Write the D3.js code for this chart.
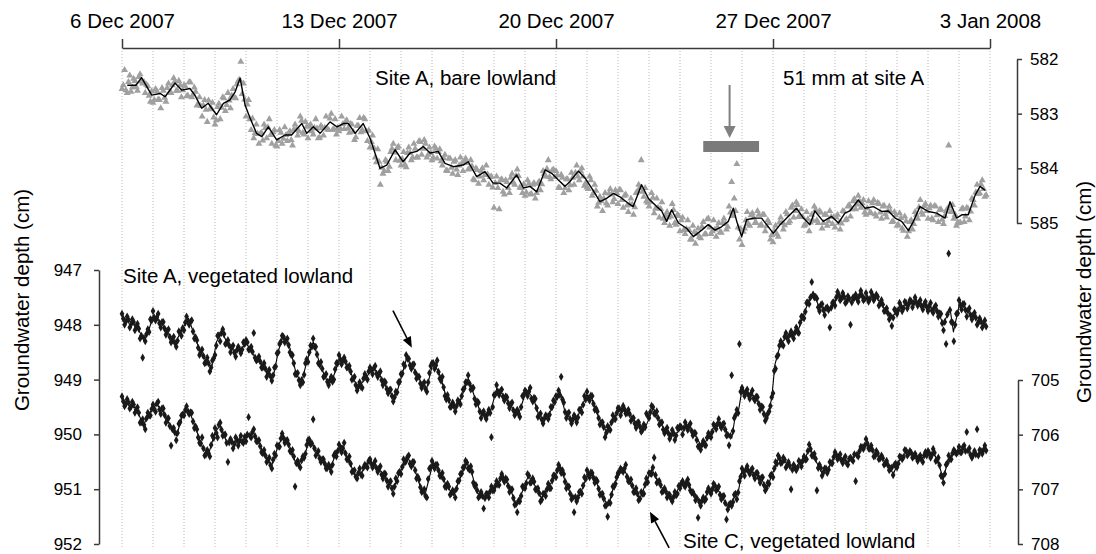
<!DOCTYPE html>
<html><head><meta charset="utf-8">
<script src="https://cdn.jsdelivr.net/npm/d3@7"></script>
<style>
html,body{margin:0;padding:0;background:#fff;}
svg{display:block;font-family:"Liberation Sans",Arial,Helvetica,sans-serif;}
</style></head><body>
<svg id="chart" width="1096" height="554"></svg>
<script>
// ---------- data ----------
const dateTickLabels = ["6 Dec 2007","13 Dec 2007","20 Dec 2007","27 Dec 2007","3 Jan 2008"];
const dateTickDays = [0, 7, 14, 21, 28];
const bareTicks = [582, 583, 584, 585];
const vegATicks = [947, 948, 949, 950, 951, 952];
const vegCTicks = [705, 706, 707, 708];
const rainStartDay = 18.75, rainEndDay = 20.55, rainArrowDay = 19.6;
const pointStepDays = 1 / 12; // readings every 2 hours (even hours from 6 Dec 2007 00:00; odd-hour set offset by 1 h)

// smoothed lines: [day since 6 Dec 2007, depth cm]
const siteABareLine = [[0.17,582.48],[0.45,582.48],[0.63,582.34],[0.96,582.66],[1.23,582.63],[1.39,582.69],[1.71,582.44],[1.93,582.57],[2.19,582.54],[2.35,582.66],[2.57,582.90],[2.78,582.81],[3.05,583.02],[3.27,582.81],[3.48,582.75],[3.65,582.60],[3.81,582.35],[3.97,582.84],[4.13,583.08],[4.34,583.36],[4.51,583.42],[4.72,583.24],[4.99,583.48],[5.26,583.39],[5.47,583.39],[5.80,583.18],[5.96,583.36],[6.17,583.24],[6.39,583.36],[6.71,583.15],[6.93,583.24],[7.14,583.18],[7.30,583.18],[7.52,583.36],[7.78,583.18],[8.00,583.45],[8.22,583.82],[8.32,584.00],[8.54,583.94],[8.81,583.66],[9.07,583.88],[9.29,583.72],[9.51,583.69],[9.72,583.60],[9.94,583.72],[10.20,583.69],[10.42,583.91],[10.69,583.97],[11.00,583.94],[11.17,583.88],[11.44,584.15],[11.71,584.06],[11.97,584.27],[12.19,584.27],[12.41,584.36],[12.73,584.12],[12.95,584.36],[13.16,584.33],[13.38,584.43],[13.65,584.03],[13.86,584.09],[14.07,584.21],[14.29,584.33],[14.45,584.24],[14.72,584.05],[14.94,584.18],[15.15,584.36],[15.42,584.61],[15.63,584.55],[15.85,584.46],[16.06,584.52],[16.33,584.64],[16.49,584.70],[16.76,584.30],[16.98,584.55],[17.25,584.70],[17.41,584.78],[17.57,584.97],[17.73,584.76],[17.95,585.00],[18.22,585.10],[18.43,585.25],[18.70,585.13],[18.91,585.03],[19.13,585.13],[19.34,585.07],[19.56,584.97],[19.72,584.73],[19.83,584.97],[19.99,585.25],[20.15,584.94],[20.37,584.91],[20.63,584.91],[20.85,585.07],[21.01,585.19],[21.23,585.03],[21.49,584.88],[21.76,584.73],[21.98,584.91],[22.19,585.03],[22.35,584.78],[22.62,584.97],[22.89,584.88],[23.11,585.00],[23.32,584.82],[23.48,584.78],[23.75,584.58],[23.97,584.73],[24.24,584.70],[24.51,584.79],[24.72,584.78],[24.94,584.91],[25.15,584.97],[25.37,585.14],[25.53,584.97],[25.74,584.70],[26.01,584.79],[26.28,584.82],[26.55,584.91],[26.71,584.61],[26.92,584.91],[27.09,584.85],[27.30,584.85],[27.52,584.49],[27.68,584.33],[27.84,584.40]];

const siteAVegLine = [[0.00,947.88],[0.26,947.94],[0.47,948.03],[0.69,948.25],[0.85,948.13],[1.01,947.82],[1.23,947.94],[1.49,948.16],[1.71,948.34],[1.93,948.09],[2.14,947.88],[2.30,948.13],[2.52,948.49],[2.73,948.67],[2.89,948.79],[3.05,948.31],[3.22,948.13],[3.43,948.37],[3.65,948.49],[3.86,948.43],[4.02,948.34],[4.24,948.55],[4.45,948.67],[4.67,948.86],[4.88,948.95],[5.04,948.49],[5.20,948.19],[5.42,948.43],[5.63,948.92],[5.80,949.04],[5.96,948.67],[6.17,948.31],[6.39,948.73],[6.60,949.01],[6.76,949.04],[7.03,948.61],[7.25,948.70],[7.46,948.98],[7.62,949.16],[7.84,948.98],[8.11,948.79],[8.32,948.92],[8.54,949.16],[8.81,949.34],[8.97,949.04],[9.18,948.61],[9.40,948.79],[9.67,949.07],[9.83,949.16],[10.04,948.67],[10.26,948.92],[10.47,949.34],[10.69,949.52],[10.90,949.40],[11.17,948.98],[11.39,949.34],[11.60,949.65],[11.87,949.62],[12.09,949.16],[12.30,949.28],[12.52,949.46],[12.78,949.65],[13.05,949.19],[13.27,949.34],[13.48,949.71],[13.65,949.71],[13.86,949.55],[14.13,949.22],[14.29,949.59],[14.51,949.74],[14.72,949.65],[14.99,949.28],[15.15,949.34],[15.37,949.68],[15.63,949.95],[15.85,949.71],[16.06,949.55],[16.33,949.59],[16.55,949.77],[16.87,949.89],[17.14,949.52],[17.35,949.77],[17.57,949.98],[17.84,950.01],[18.05,949.89],[18.27,949.83],[18.43,949.95],[18.70,950.22],[18.91,950.07],[19.07,949.89],[19.29,949.77],[19.51,949.95],[19.67,950.07],[19.77,949.71],[19.88,949.59],[19.99,949.22],[20.20,949.25],[20.42,949.31],[20.63,949.52],[20.80,949.71],[20.96,949.34],[21.06,948.73],[21.23,948.37],[21.39,948.25],[21.60,948.19],[21.82,948.09],[21.98,947.82],[22.19,947.52],[22.30,947.40],[22.46,947.64],[22.68,947.73],[22.89,947.70],[23.11,947.46],[23.32,947.52],[23.54,947.58],[23.81,947.46],[24.07,947.52],[24.29,947.46],[24.51,947.64],[24.83,947.88],[25.04,947.70],[25.31,947.64],[25.58,947.58],[25.85,947.64],[26.12,947.70],[26.33,947.76],[26.49,948.00],[26.71,947.70],[26.82,948.13],[27.03,947.58],[27.25,947.76],[27.46,947.82],[27.62,947.94],[27.84,948.00]];

const siteCVegLine = [[0.00,705.38],[0.26,705.44],[0.47,705.53],[0.69,705.83],[0.90,705.59],[1.12,705.44],[1.33,705.59],[1.55,705.83],[1.76,706.02],[1.98,705.59],[2.14,705.53],[2.35,705.83],[2.57,706.20],[2.78,706.38],[3.00,705.96],[3.16,705.83],[3.38,706.14],[3.59,706.14],[3.81,706.11],[4.02,706.05],[4.24,705.96],[4.45,706.20],[4.67,706.44],[4.83,706.56],[5.04,706.20],[5.20,706.02],[5.42,706.23],[5.63,706.56],[5.85,706.44],[6.06,706.08],[6.28,706.32],[6.49,706.50],[6.71,706.63],[6.92,706.32],[7.08,706.20],[7.30,706.44],[7.52,706.75],[7.73,706.69],[7.94,706.50],[8.16,706.56],[8.38,706.69],[8.59,706.87],[8.75,706.99],[8.97,706.69],[9.18,706.41],[9.40,706.56],[9.61,706.93],[9.77,707.11],[10.04,706.50],[10.26,706.69],[10.47,706.93],[10.69,707.11],[10.90,706.81],[11.12,706.50],[11.28,706.69],[11.44,707.05],[11.66,707.17],[11.87,707.05],[12.14,706.87],[12.30,706.75],[12.52,706.99],[12.73,707.30],[12.95,706.99],[13.11,706.75],[13.32,706.93],[13.54,707.17],[13.65,707.05],[13.86,706.87],[14.13,706.56],[14.34,706.93],[14.56,707.17],[14.77,707.11],[15.04,706.69],[15.26,706.81],[15.47,707.11],[15.69,707.30],[15.90,706.87],[16.17,706.60],[16.44,706.93],[16.71,707.17],[16.87,706.93],[17.09,706.63],[17.30,706.87],[17.52,707.05],[17.78,707.17],[18.00,706.93],[18.22,706.87],[18.43,707.11],[18.70,707.24],[18.91,707.05],[19.13,706.93],[19.34,707.11],[19.56,707.36],[19.72,707.17],[19.88,707.05],[19.99,706.69],[20.20,706.63],[20.42,706.72],[20.63,706.81],[20.80,706.99],[20.96,706.75],[21.17,706.44],[21.39,706.50],[21.60,706.63],[21.82,706.56],[22.03,706.44],[22.19,706.23],[22.35,706.44],[22.57,706.69],[22.78,706.63],[23.00,706.38],[23.22,706.44],[23.43,706.50],[23.65,706.38],[23.86,706.26],[24.02,706.14],[24.24,706.32],[24.51,706.44],[24.72,706.56],[24.88,706.72],[25.10,706.44],[25.31,706.32],[25.53,706.38],[25.74,706.44],[25.96,706.38],[26.17,706.32],[26.33,706.50],[26.49,706.81],[26.66,706.44],[26.87,706.32],[27.09,706.26],[27.30,706.32],[27.52,706.38],[27.73,706.32],[27.84,706.26]];

// individual readings, even hours
const siteABarePoints = [
582.55,582.20,582.62,582.30,582.52,582.40,582.58,582.28,582.45,582.62,582.50,582.78,
582.80,582.55,582.74,582.90,582.58,582.78,582.45,582.62,582.35,582.58,582.40,582.70,
582.48,582.68,582.42,582.70,582.52,582.85,582.70,583.05,582.75,583.15,582.92,582.80,
583.20,582.88,583.10,582.70,582.95,582.62,582.90,582.55,582.72,582.40,582.05,582.45,
583.05,582.75,583.30,583.45,583.20,583.55,583.35,583.20,583.45,583.10,583.55,583.30,
583.60,583.30,583.55,583.25,583.50,583.32,583.58,583.20,583.40,583.05,583.35,583.15,
583.45,583.20,583.38,583.10,583.45,583.22,583.40,583.05,583.30,583.00,583.28,583.38,
583.32,583.05,583.28,583.12,583.35,583.20,583.48,583.22,583.08,583.30,583.10,583.50,
583.62,583.40,583.80,583.65,584.30,584.10,583.85,584.05,583.70,583.55,583.85,583.60,
583.95,583.70,583.98,583.62,583.85,583.55,583.80,583.50,583.75,583.48,583.80,583.62,
583.85,583.60,583.82,583.65,583.95,583.75,584.05,583.82,584.10,583.85,584.12,583.80,
584.05,583.82,584.02,583.85,584.20,584.00,584.28,584.05,584.22,583.95,584.30,584.15,
584.72,584.15,584.75,584.20,584.48,584.25,584.45,584.10,584.30,584.02,584.35,584.45,
584.50,584.22,584.48,584.30,584.55,584.28,584.40,584.05,584.15,583.85,584.20,584.02,
584.05,584.35,584.12,584.45,584.20,584.40,584.08,584.30,583.95,584.22,584.00,584.32,
584.35,584.15,584.50,584.30,584.70,584.52,584.78,584.45,584.68,584.38,584.62,584.40,
584.65,584.40,584.72,584.48,584.80,584.55,584.85,584.45,584.30,583.85,584.52,584.60,
584.70,584.45,584.82,584.55,584.90,584.62,585.00,584.80,585.05,584.65,585.00,584.85,
585.15,584.90,585.20,584.95,585.30,585.05,585.38,585.10,585.28,584.98,585.20,584.92,
585.20,584.95,585.25,585.00,585.18,584.92,585.12,584.70,584.25,584.55,583.92,585.30,
585.40,585.10,584.80,585.05,584.82,585.00,584.78,585.05,584.85,585.15,584.95,585.30,
585.35,585.05,585.25,584.90,585.12,584.80,585.00,584.72,584.90,584.62,584.88,584.75,
585.05,584.80,585.15,584.85,584.70,584.95,584.78,585.10,584.85,585.05,584.78,585.02,
585.08,584.85,585.12,584.78,584.95,584.70,584.88,584.60,584.75,584.50,584.72,584.58,
584.85,584.60,584.82,584.58,584.88,584.65,584.92,584.68,584.90,584.70,584.98,584.80,
585.05,584.82,585.10,584.88,585.25,584.98,585.12,584.80,584.92,584.58,584.85,584.65,
584.92,584.68,584.95,584.70,584.98,584.75,585.02,584.78,583.58,584.80,584.92,585.05,
585.00,584.75,584.98,584.72,584.95,584.55,584.68,584.30,584.45,584.22,584.52];
// odd hours
const siteABarePointsOdd = [
582.48,582.57,582.42,582.60,582.36,582.51,582.33,582.41,582.42,582.47,582.67,582.59,
582.75,582.59,582.75,582.53,582.71,582.53,582.61,582.48,582.41,582.58,582.48,582.57,
582.50,582.67,582.43,582.65,582.60,582.83,582.86,582.85,582.93,582.76,582.90,583.07,
583.12,582.82,582.89,582.72,582.84,582.76,582.67,582.71,582.46,582.38,582.64,582.74,
582.83,583.10,583.09,583.36,583.37,583.37,583.49,583.26,583.25,583.39,583.34,583.58,
583.50,583.35,583.46,583.39,583.36,583.48,583.29,583.29,583.32,583.13,583.38,583.24,
583.23,583.32,583.26,583.27,583.44,583.26,583.26,583.29,583.09,583.30,583.10,583.26,
583.27,583.19,583.15,583.27,583.19,583.33,583.43,583.22,583.34,583.08,583.32,583.31,
583.52,583.63,583.89,583.88,583.99,584.05,583.88,583.97,583.64,583.71,583.63,583.86,
583.83,583.93,583.72,583.72,583.80,583.64,583.80,583.52,583.64,583.55,583.75,583.72,
583.80,583.64,583.70,583.87,583.81,584.04,583.82,583.99,583.88,584.02,583.95,583.91,
583.87,583.90,584.01,583.96,584.22,584.03,584.15,584.00,584.12,584.11,584.16,584.35,
584.27,584.36,584.22,584.43,584.22,584.36,584.17,584.26,584.14,584.14,584.36,584.29,
584.44,584.28,584.47,584.27,584.45,584.24,584.29,584.10,584.01,584.16,584.04,584.16,
584.13,584.36,584.17,584.36,584.20,584.31,584.17,584.08,584.15,584.05,584.15,584.27,
584.38,584.22,584.45,584.41,584.63,584.60,584.55,584.64,584.46,584.48,584.56,584.45,
584.39,584.58,584.50,584.68,584.66,584.66,584.71,584.42,584.36,584.43,584.36,584.63,
584.61,584.54,584.74,584.72,584.74,584.92,584.86,584.90,584.88,584.76,585.03,584.87,
584.95,585.13,585.11,585.13,585.30,585.17,585.20,585.25,585.07,585.21,584.93,585.08,
585.15,585.12,585.08,585.17,585.00,585.02,585.07,584.81,584.87,584.78,585.08,585.11,
585.16,584.95,585.02,584.86,584.91,585.00,584.85,585.03,584.85,585.06,585.00,585.22,
585.14,585.20,584.99,585.00,585.04,584.84,584.97,584.68,584.78,584.67,584.89,584.89,
585.03,584.93,584.99,584.96,584.76,585.00,584.81,585.00,584.85,584.97,584.89,584.89,
584.90,585.00,585.01,584.79,584.93,584.67,584.75,584.56,584.66,584.60,584.64,584.81,
584.73,584.81,584.64,584.84,584.63,584.81,584.70,584.84,584.78,584.79,584.97,584.86,
585.03,584.91,585.14,584.97,585.15,584.95,585.02,584.85,584.71,584.81,584.69,584.78,
584.73,584.92,584.69,584.86,584.76,584.94,584.87,584.74,584.70,584.67,584.85,584.99,
584.99,584.73,584.88,584.74,584.79,584.58,584.44,584.47,584.29,584.38,584.49];

const siteAVegPoints = [
947.80,948.00,947.85,948.05,947.90,948.10,947.98,948.25,948.60,948.30,948.08,947.90,
947.75,947.92,947.80,948.05,947.95,948.18,948.08,948.32,948.22,948.40,948.12,948.20,
948.10,947.85,948.00,947.92,948.25,948.28,948.55,948.45,948.70,948.60,948.85,948.65,
948.55,948.20,948.30,948.08,948.35,948.28,948.50,948.38,948.58,948.40,948.52,948.32,
948.28,948.45,948.40,948.15,948.65,948.58,948.78,948.70,948.95,948.82,949.02,948.78,
948.52,948.35,948.20,948.32,948.25,948.50,948.55,948.90,948.88,949.10,949.05,948.70,
948.68,948.38,948.25,948.40,948.70,948.68,948.95,948.90,949.10,948.95,949.00,948.70,
948.55,948.72,948.60,948.78,948.75,949.00,948.95,949.20,949.05,949.15,948.90,949.00,
948.78,948.90,948.75,948.95,948.85,949.10,949.05,949.25,949.18,949.40,949.22,949.05,
948.90,948.72,948.55,948.62,948.80,948.72,948.98,948.95,949.15,949.05,949.22,948.88,
948.70,948.80,948.65,948.98,948.95,949.30,949.28,949.50,949.42,949.58,949.38,949.45,
949.18,949.05,948.92,949.18,949.15,949.45,949.42,949.70,949.58,949.72,949.55,950.05,
949.28,949.10,949.28,949.18,949.38,949.32,949.52,949.42,949.65,949.55,949.68,949.30,
949.20,949.30,949.15,949.40,949.35,949.68,949.62,949.80,949.65,949.72,949.50,949.38,
949.30,949.20,948.95,949.42,949.70,949.60,949.80,949.65,949.78,949.55,949.60,949.30,
949.22,949.38,949.30,949.55,949.58,949.82,949.78,950.05,949.85,949.92,949.65,949.72,
949.52,949.65,949.48,949.62,949.55,949.75,949.70,949.88,949.78,949.95,949.82,949.62,
949.70,949.48,949.62,949.58,949.82,949.78,949.98,949.88,950.08,949.92,950.10,949.88,
949.85,950.00,949.78,949.92,949.80,950.02,949.98,950.22,950.28,950.12,950.20,949.98,
950.05,949.82,949.90,949.72,949.88,949.80,950.02,950.20,948.92,949.70,949.55,948.35,
949.15,949.30,949.18,949.35,949.20,949.38,949.32,949.55,949.50,949.75,949.62,949.48,
949.25,948.80,948.55,948.30,948.38,948.15,948.30,948.12,948.25,948.05,948.15,947.85,
947.88,947.60,947.62,947.22,947.50,947.52,947.75,947.62,947.82,947.68,948.05,947.60,
947.65,947.40,947.55,947.42,947.60,947.48,948.00,947.50,947.45,947.58,947.38,947.55,
947.42,947.58,947.40,947.55,947.45,947.65,947.55,947.75,947.70,947.90,948.02,947.72,
947.80,947.60,947.75,947.58,947.70,947.55,947.68,947.50,947.65,947.55,947.72,947.58,
947.75,947.60,947.78,947.65,947.85,947.80,948.10,948.35,946.70,947.95,948.30,947.80,
947.55,947.72,947.62,947.85,947.70,947.90,947.78,948.00,947.88,948.05,947.92];
const siteAVegPointsOdd = [
947.89,947.94,947.91,947.99,947.95,948.03,948.07,948.20,948.24,948.17,948.13,947.92,
947.87,947.87,947.97,947.95,948.07,948.11,948.22,948.28,948.33,948.29,948.14,948.06,
947.96,947.94,947.94,948.12,948.23,948.42,948.50,948.57,948.69,948.70,948.78,948.61,
948.38,948.19,948.15,948.17,948.33,948.38,948.42,948.51,948.46,948.45,948.45,948.35,
948.32,948.45,948.49,948.60,948.63,948.67,948.78,948.80,948.88,948.94,948.92,948.76,
948.50,948.31,948.22,948.29,948.37,948.55,948.70,948.90,949.01,949.01,948.91,948.63,
948.50,948.40,948.40,948.54,948.73,948.80,948.94,949.04,949.01,949.04,948.81,948.70,
948.63,948.65,948.67,948.78,948.85,948.98,949.10,949.13,949.13,948.98,948.96,948.85,
948.83,948.79,948.89,948.89,949.01,949.03,949.17,949.19,949.30,949.32,949.23,949.04,
948.89,948.75,948.62,948.74,948.73,948.87,948.94,949.07,949.09,949.17,949.05,948.75,
948.70,948.74,948.86,949.02,949.14,949.36,949.37,949.49,949.48,949.48,949.41,949.30,
949.16,949.05,949.07,949.15,949.35,949.40,949.58,949.61,949.66,949.63,949.61,949.50,
949.27,949.22,949.21,949.31,949.31,949.43,949.45,949.56,949.60,949.62,949.50,949.28,
949.23,949.22,949.35,949.33,949.52,949.65,949.73,949.71,949.67,949.64,949.50,949.41,
949.31,949.28,949.36,949.59,949.63,949.72,949.73,949.69,949.69,949.55,949.46,949.36,
949.34,949.29,949.44,949.53,949.70,949.79,949.87,949.97,949.91,949.78,949.72,949.61,
949.53,949.56,949.54,949.61,949.63,949.71,949.80,949.79,949.86,949.92,949.87,949.66,
949.59,949.50,949.63,949.70,949.79,949.91,949.93,949.98,950.02,949.98,950.02,949.89,
949.87,949.89,949.85,949.85,949.94,949.97,950.10,950.21,950.19,950.19,950.06,950.02,
949.95,949.85,949.81,949.83,949.82,949.91,950.01,950.03,949.94,949.65,949.61,949.22,
949.22,949.23,949.28,949.26,949.34,949.31,949.44,949.49,949.63,949.70,949.58,949.32,
948.84,948.58,948.38,948.36,948.22,948.24,948.18,948.20,948.14,948.13,947.96,947.86,
947.76,947.59,947.50,947.45,947.49,947.68,947.64,947.73,947.70,947.73,947.69,947.59,
947.50,947.46,947.52,947.49,947.58,947.52,947.59,947.51,947.52,947.47,947.47,947.53,
947.51,947.53,947.46,947.50,947.49,947.61,947.63,947.74,947.79,947.84,947.87,947.74,
947.73,947.66,947.70,947.60,947.63,947.57,947.60,947.59,947.60,947.66,947.63,947.67,
947.66,947.74,947.68,947.75,947.79,947.97,947.95,947.81,947.73,947.96,948.00,947.79,
947.64,947.62,947.73,947.74,947.82,947.82,947.87,947.96,947.94,947.99,948.03];

const siteCVegPoints = [
705.30,705.48,705.35,705.52,705.40,705.60,705.50,705.78,705.72,705.90,705.60,705.65,
705.45,705.58,705.40,705.62,705.52,705.78,705.70,706.20,705.88,706.10,705.80,705.65,
705.65,705.48,705.62,705.60,705.88,705.90,706.15,706.05,706.38,706.28,706.40,706.02,
705.88,706.05,705.78,706.02,706.00,706.50,706.08,706.25,706.05,706.20,706.02,706.15,
706.12,705.68,706.05,705.90,706.12,706.10,706.32,706.28,706.50,706.42,706.62,706.35,
706.20,706.22,705.98,706.15,706.10,706.30,706.28,706.95,706.48,706.60,706.40,706.35,
706.10,706.18,705.72,706.38,706.30,706.50,706.45,706.62,706.55,706.68,706.38,706.40,
706.18,706.32,706.15,706.45,706.40,706.68,706.65,706.80,706.62,706.75,706.55,706.60,
706.45,706.60,706.48,706.68,706.58,706.80,706.72,706.95,706.85,707.08,706.80,706.70,
706.72,706.45,706.48,706.38,706.58,706.50,706.80,706.82,707.05,707.00,707.15,706.62,
706.48,706.62,706.55,706.75,706.70,706.95,706.90,707.10,707.02,707.15,706.85,706.72,
706.60,706.48,706.62,706.58,706.88,706.92,707.15,707.05,707.35,707.08,707.15,706.95,
707.02,706.85,706.92,706.72,706.86,706.82,707.05,707.00,707.28,707.42,707.22,706.95,
706.98,706.72,706.88,706.80,707.00,706.98,707.22,707.08,707.12,706.90,706.98,706.75,
706.78,706.55,706.70,706.72,706.98,706.95,707.18,707.42,707.22,707.05,707.08,706.78,
706.65,706.78,706.70,706.88,706.85,707.10,707.08,707.30,707.50,707.25,706.95,706.90,
706.70,706.62,706.68,706.55,706.85,706.82,707.05,706.98,707.20,707.05,707.08,706.80,
706.70,706.72,706.42,706.88,706.85,707.05,706.98,707.15,707.10,707.22,707.05,707.08,
706.98,706.85,706.95,706.82,707.02,707.05,707.20,707.52,707.30,707.15,707.18,706.98,
707.08,706.90,707.02,706.95,707.18,707.12,707.55,707.28,707.30,707.10,707.18,706.85,
706.62,706.75,706.58,706.72,706.62,706.80,706.70,706.88,706.78,707.02,706.88,706.75,
706.78,706.50,706.38,706.52,706.42,706.60,706.50,707.00,706.55,706.65,706.48,706.58,
706.40,706.45,706.18,706.38,706.35,707.02,706.55,706.75,706.62,706.70,706.50,706.52,
706.32,706.45,706.36,706.52,706.40,706.55,706.42,706.48,706.85,706.40,706.22,706.26,
706.08,706.25,706.20,706.40,706.30,706.45,706.38,706.55,706.48,706.65,706.60,706.55,
706.60,706.40,706.45,706.28,706.38,706.30,706.42,706.35,706.48,706.38,706.50,706.32,
706.30,706.42,706.26,706.48,706.42,706.75,706.88,706.55,706.38,706.45,706.28,706.35,
706.22,706.32,706.20,705.95,706.25,706.42,706.30,705.90,706.28,706.35,706.20];
const siteCVegPointsOdd = [
705.39,705.44,705.41,705.49,705.45,705.54,705.60,705.77,705.82,705.70,705.65,705.53,
705.53,705.43,705.54,705.52,705.64,705.71,705.84,705.90,705.96,705.97,705.77,705.63,
705.55,705.58,705.59,705.76,705.85,706.05,706.16,706.25,706.36,706.34,706.19,706.06,
705.97,705.82,705.91,706.00,706.15,706.14,706.13,706.17,706.10,706.11,706.13,706.04,
706.00,706.02,705.95,706.03,706.12,706.21,706.34,706.38,706.47,706.56,706.46,706.38,
706.21,706.07,706.06,706.11,706.18,706.32,706.40,706.52,706.56,706.47,706.42,706.19,
706.09,706.16,706.25,706.33,706.43,706.45,706.53,706.61,706.60,706.55,706.34,706.30,
706.25,706.25,706.34,706.46,706.53,706.67,706.77,706.70,706.73,706.60,706.57,706.48,
706.53,706.54,706.61,706.62,706.73,706.71,706.84,706.87,706.98,706.95,706.85,706.68,
706.59,706.51,706.41,706.53,706.50,706.65,706.77,706.96,707.04,707.12,706.81,706.60,
706.55,706.55,706.65,706.76,706.81,706.96,706.95,707.07,707.05,706.99,706.84,706.71,
706.59,706.51,706.64,706.68,706.94,707.02,707.12,707.12,707.16,707.09,707.04,707.02,
706.94,706.91,706.80,706.80,706.80,706.94,707.00,707.16,707.27,707.21,707.12,706.96,
706.89,706.75,706.87,706.86,707.00,707.07,707.19,707.08,707.00,706.98,706.84,706.75,
706.65,706.62,706.65,706.86,706.94,707.08,707.15,707.14,707.15,707.04,706.93,706.81,
706.73,706.69,706.79,706.82,706.99,707.09,707.17,707.29,707.24,707.10,706.95,706.78,
706.68,706.65,706.62,706.77,706.85,706.93,707.05,707.08,707.17,707.08,706.91,706.87,
706.71,706.60,706.74,706.86,706.92,707.03,707.04,707.10,707.17,707.14,707.11,706.94,
706.89,706.92,706.87,706.92,707.06,707.10,707.16,707.23,707.21,707.21,707.05,707.03,
707.00,706.93,706.99,707.10,707.13,707.25,707.37,707.26,707.23,707.08,707.06,706.77,
706.68,706.64,706.67,706.65,706.74,706.70,706.79,706.79,706.92,706.98,706.90,706.73,
706.62,706.53,706.43,706.51,706.46,706.56,706.57,706.64,706.60,706.60,706.51,706.48,
706.46,706.30,706.26,706.39,706.44,706.61,706.61,706.69,706.62,706.64,706.52,706.41,
706.37,706.41,706.47,706.44,706.52,706.44,706.45,706.36,706.37,706.30,706.23,706.20,
706.16,706.26,706.28,706.39,706.34,706.43,706.43,706.52,706.56,706.62,706.74,706.53,
706.53,706.41,706.41,706.29,706.35,706.33,706.40,706.41,706.42,706.46,706.38,706.38,
706.34,706.37,706.33,706.47,706.56,706.77,706.72,706.52,706.45,706.34,706.32,706.32,
706.32,706.23,706.30,706.29,706.37,706.37,706.36,706.38,706.30,706.28,706.29];

// annotation anchors (day, depth)
const arrowA = {from: [8.74, 947.74], to: [9.35, 948.42]};
const arrowC = {from: [17.65, 708.07], to: [17.03, 707.41]};

// ---------- drawing ----------
const svg = d3.select("#chart");
const t0 = Date.UTC(2007, 11, 6);
const dayToDate = d => new Date(t0 + d * 864e5);

const x = d3.scaleUtc().domain([dayToDate(0), dayToDate(28)]).range([122, 990]);
const yBare = d3.scaleLinear().domain([582, 585]).range([59, 223]);
const yA = d3.scaleLinear().domain([947, 952]).range([270, 544]);
const yC = d3.scaleLinear().domain([705, 708]).range([380, 544]);

const axisColor = "#3a3a3a";
const tickFont = "17px";
const bigFont = "20.5px";

// daily dotted grid lines
svg.append("g").selectAll("line").data(d3.range(0, 29)).join("line")
  .attr("x1", d => x(dayToDate(d))).attr("x2", d => x(dayToDate(d)))
  .attr("y1", 48).attr("y2", 549)
  .attr("stroke", "#b8b8b8").attr("stroke-width", 1).attr("stroke-dasharray", "1,2");

const lineGen = ys => d3.line().x(d => x(dayToDate(d[0]))).y(d => ys(d[1]));
function pointSet(vals, offset, ys, sym, fill) {
  svg.append("g").selectAll("path").data(vals).join("path")
    .attr("d", sym)
    .attr("transform", (v, i) => `translate(${x(dayToDate(i * pointStepDays + offset))},${ys(v)})`)
    .attr("fill", fill);
}

// top panel: points then line
const tri = d3.symbol().type(d3.symbolTriangle).size(21);
pointSet(siteABarePoints, 0, yBare, tri, "#a0a0a0");
pointSet(siteABarePointsOdd, pointStepDays / 2, yBare, tri, "#a0a0a0");
svg.append("path").datum(siteABareLine).attr("d", lineGen(yBare))
  .attr("fill", "none").attr("stroke", "#000").attr("stroke-width", 1.4).attr("stroke-linejoin", "round");

// bottom panel
const dia = d3.symbol().type(d3.symbolDiamond).size(19);
function vegSeries(points, pointsOdd, line, ys) {
  svg.append("path").datum(line).attr("d", lineGen(ys))
    .attr("fill", "none").attr("stroke", "#000").attr("stroke-width", 1.1).attr("stroke-linejoin", "round");
  pointSet(points, 0, ys, dia, "#1a1a1a");
  pointSet(pointsOdd, pointStepDays / 2, ys, dia, "#1a1a1a");
}
vegSeries(siteAVegPoints, siteAVegPointsOdd, siteAVegLine, yA);
vegSeries(siteCVegPoints, siteCVegPointsOdd, siteCVegLine, yC);

// axes
function styleAxis(g) {
  g.selectAll("path.domain").attr("stroke", axisColor).attr("stroke-width", 1.5);
  g.selectAll(".tick line").attr("stroke", axisColor).attr("stroke-width", 1.5);
  g.selectAll(".tick text").attr("fill", "#000");
}
const topAxis = svg.append("g").attr("transform", "translate(0,48)")
  .call(d3.axisTop(x).tickValues(dateTickDays.map(dayToDate))
    .tickFormat((d, i) => dateTickLabels[i]).tickSize(9).tickPadding(11).tickSizeOuter(0));
topAxis.attr("font-size", bigFont).attr("font-family", null);
styleAxis(topAxis);

const rightTop = svg.append("g").attr("transform", "translate(1017,0)")
  .call(d3.axisRight(yBare).tickValues(bareTicks).tickSize(5).tickPadding(8).tickSizeOuter(0).tickFormat(d3.format("d")));
rightTop.attr("font-size", tickFont).attr("font-family", null);
styleAxis(rightTop);

const leftAx = svg.append("g").attr("transform", "translate(99,0)")
  .call(d3.axisLeft(yA).tickValues(vegATicks).tickSize(5).tickPadding(12).tickSizeOuter(0).tickFormat(d3.format("d")));
leftAx.attr("font-size", tickFont).attr("font-family", null);
styleAxis(leftAx);

const rightBot = svg.append("g").attr("transform", "translate(1018,0)")
  .call(d3.axisRight(yC).tickValues(vegCTicks).tickSize(5).tickPadding(8).tickSizeOuter(0).tickFormat(d3.format("d")));
rightBot.attr("font-size", tickFont).attr("font-family", null);
styleAxis(rightBot);

// axis titles
svg.append("text").attr("transform", "translate(29,300) rotate(-90)")
  .attr("text-anchor", "middle").attr("font-size", bigFont).text("Groundwater depth (cm)");
svg.append("text").attr("transform", "translate(1091,292) rotate(-90)")
  .attr("text-anchor", "middle").attr("font-size", bigFont).text("Groundwater depth (cm)");

// text annotations
const note = (tx, ty, s) => svg.append("text").attr("x", tx).attr("y", ty).attr("font-size", bigFont).text(s);
note(375, 85, "Site A, bare lowland");
note(783, 85, "51 mm at site A");
note(123, 283, "Site A, vegetated lowland");
note(683, 548, "Site C, vegetated lowland");

// rain bar and arrow
svg.append("rect")
  .attr("x", x(dayToDate(rainStartDay))).attr("width", x(dayToDate(rainEndDay)) - x(dayToDate(rainStartDay)))
  .attr("y", 141).attr("height", 11).attr("fill", "#7a7a7a");
const ax = x(dayToDate(rainArrowDay));
svg.append("line").attr("x1", ax).attr("x2", ax).attr("y1", 85).attr("y2", 128)
  .attr("stroke", "#808080").attr("stroke-width", 2);
svg.append("path").attr("d", `M${ax - 6},${126}L${ax + 6},${126}L${ax},${138}Z`).attr("fill", "#808080");

// black arrows
function arrow(a, ys) {
  const x1 = x(dayToDate(a.from[0])), y1 = ys(a.from[1]);
  const x2 = x(dayToDate(a.to[0])), y2 = ys(a.to[1]);
  const ang = Math.atan2(y2 - y1, x2 - x1), L = 11, W = 4.5;
  const bx = x2 - L * Math.cos(ang), by = y2 - L * Math.sin(ang);
  svg.append("line").attr("x1", x1).attr("y1", y1).attr("x2", bx).attr("y2", by)
    .attr("stroke", "#000").attr("stroke-width", 1.6);
  svg.append("path").attr("d",
    `M${x2},${y2}L${bx - W * Math.sin(ang)},${by + W * Math.cos(ang)}L${bx + W * Math.sin(ang)},${by - W * Math.cos(ang)}Z`)
    .attr("fill", "#000");
}
arrow(arrowA, yA);
arrow(arrowC, yC);
</script>
</body></html>
